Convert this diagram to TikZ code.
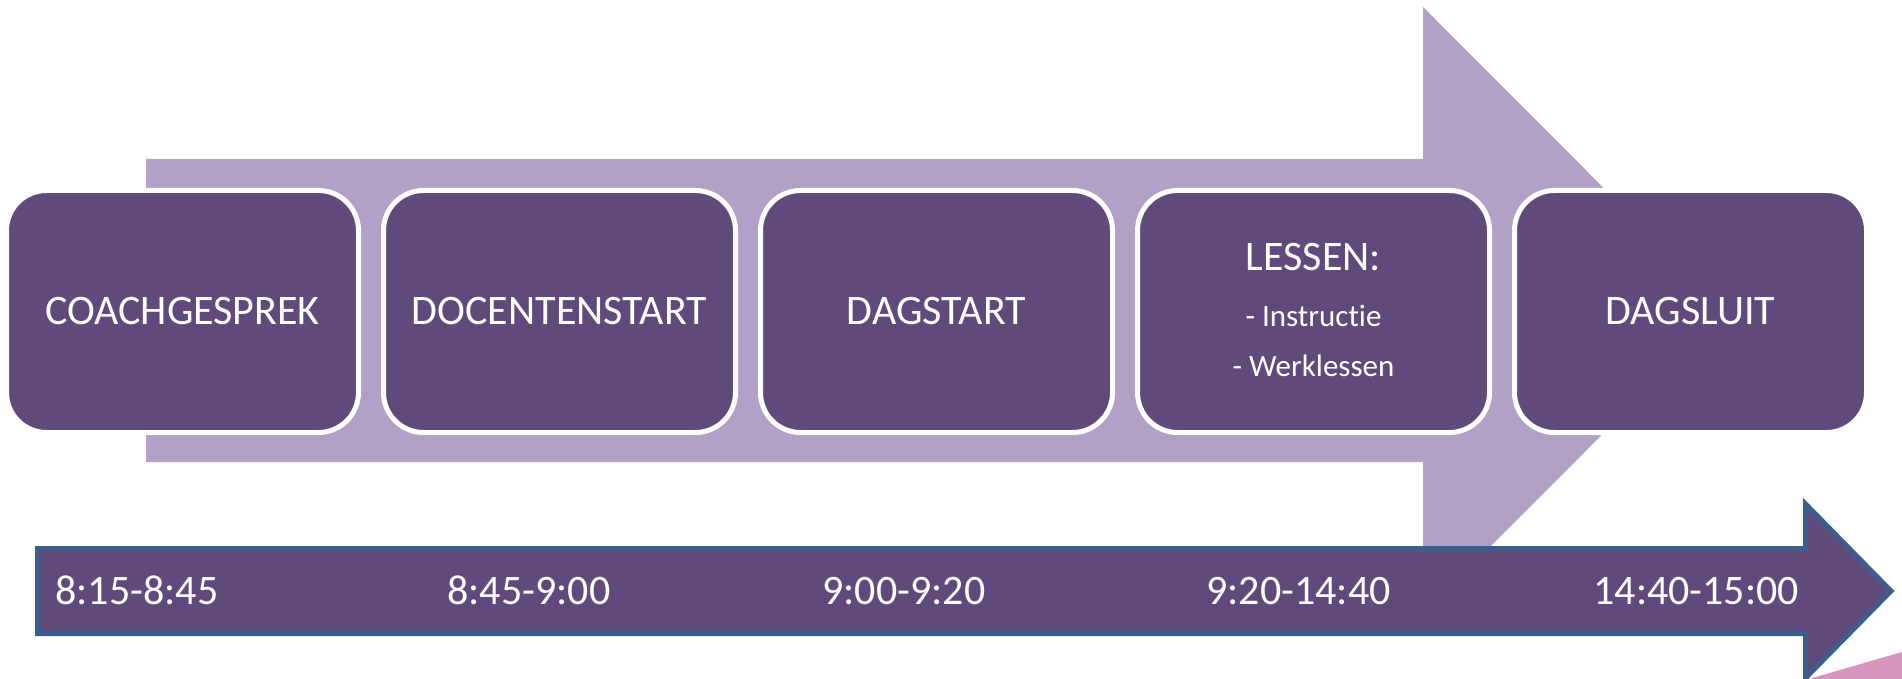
\documentclass[tikz,border=0pt]{standalone}
\usepackage{fontspec}
\setmainfont{Carlito}[Ligatures=CommonOff]
\usepackage{xcolor}
\usepackage{tikz}
\usetikzlibrary{arrows,shapes}

\definecolor{paars}{HTML}{604A7B}
\definecolor{lichtpaars}{HTML}{B2A1C7}
\definecolor{randblauw}{HTML}{3B5E8C}
\definecolor{roze}{HTML}{D896BF}

\begin{document}
\begin{tikzpicture}[x=0.5pt,y=-0.5pt]
      \tikzstyle{fase}=[draw=white,line width=2.5pt,fill=paars,text=white,minimum width=176pt,minimum height=121pt,rounded corners=20pt,inner sep=0pt,font=\fontsize{21}{25}\selectfont]
      \tikzstyle{fase_kop}=[text=white,inner sep=0pt,anchor=base,font=\fontsize{21}{25}\selectfont]
      \tikzstyle{fase_sub}=[text=white,inner sep=0pt,anchor=base,font=\fontsize{15.5}{18}\selectfont]
      \tikzstyle{tijd}=[text=white,inner sep=0pt,anchor=base west,font=\fontsize{21}{25}\selectfont]
      \tikzstyle{pijl}=[fill=lichtpaars]
      \tikzstyle{tijdpijl}=[draw=randblauw,line width=2.5pt,fill=paars]

      \useasboundingbox (0,0) rectangle (1902,679);

      % grote pijl achter de fasen
      \fill [pijl] (146,159) -- (1423,159) -- (1423,7) -- (1726,310.5) -- (1423,614) -- (1423,462) -- (146,462) -- cycle;

      \begin{scope}[node distance=188.5pt]
        \node [fase] (coach) at (182.5,311.5) {COACHGESPREK};
        \node [fase] (docent) [right of=coach] {DOCENTENSTART};
        \node [fase] (dagstart) [right of=docent] {DAGSTART};
        \node [fase] (lessen) [right of=dagstart] {};
        \node [fase] (dagsluit) [right of=lessen] {DAGSLUIT};

        \node [fase_kop] (lessen_kop) at (1313.5,271) {LESSEN:};
        \node [fase_sub] (instructie) at (1313.5,327) {- Instructie};
        \node [fase_sub] (werklessen) at (1313.5,377) {- Werklessen};
      \end{scope}

      % tijdlijn
      \fill [roze] (1809,679) -- (1902,652) -- (1902,679) -- cycle;
      \draw [tijdpijl] (37.5,548.5) -- (1805.5,548.5) -- (1805.5,504) -- (1891,591) -- (1805.5,678) -- (1805.5,633.5) -- (37.5,633.5) -- cycle;

      \node [tijd] (t1) at (55,604) {8:15-8:45};
      \node [tijd] (t2) at (447,604) {8:45-9:00};
      \node [tijd] (t3) at (822,604) {9:00-9:20};
      \node [tijd] (t4) at (1206,604) {9:20-14:40};
      \node [tijd] (t5) at (1593,604) {14:40-15:00};
\end{tikzpicture}
\end{document}
